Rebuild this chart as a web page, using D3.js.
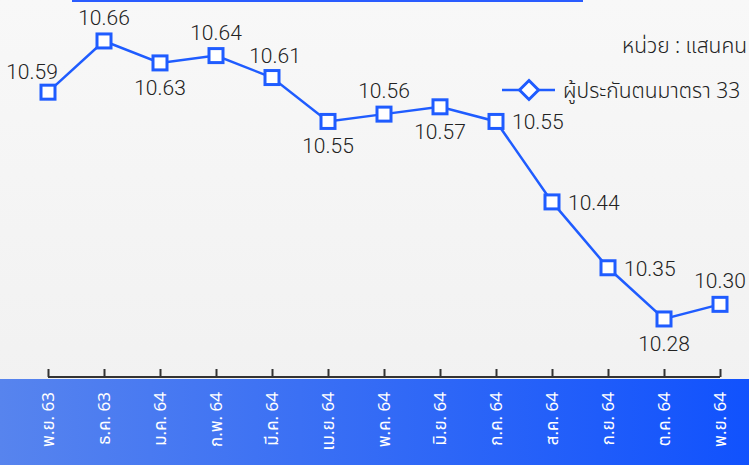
<!DOCTYPE html>
<html>
<head>
<meta charset="utf-8">
<script src="https://cdn.jsdelivr.net/npm/d3@7"></script>
<style>
  html, body { margin: 0; padding: 0; }
  body { width: 749px; height: 465px; overflow: hidden; }
  svg { display: block; font-family: "Noto Sans Thai", "Noto Sans", sans-serif; }
  .num { font-family: Roboto, "Noto Sans", sans-serif; font-weight: 300; }
  .thai { font-weight: 300; }
</style>
</head>
<body>
<svg id="chart" width="749" height="465"></svg>
<script>
const categories = ["พ.ย. 63", "ธ.ค. 63", "ม.ค. 64", "ก.พ. 64", "มี.ค. 64", "เม.ย. 64", "พ.ค. 64", "มิ.ย. 64", "ก.ค. 64", "ส.ค. 64", "ก.ย. 64", "ต.ค. 64", "พ.ย. 64"];
const values = [10.59, 10.66, 10.63, 10.64, 10.61, 10.55, 10.56, 10.57, 10.55, 10.44, 10.35, 10.28, 10.30];
const labelPos = ["left", "top", "bottom", "top", "topright", "bottom", "top", "bottom", "right", "right", "right", "bottom", "top"];
const seriesName = "ผู้ประกันตนมาตรา 33";
const unitText = "หน่วย : แสนคน";
const yDomain = [10.20, 10.70];

const W = 749, H = 465;
const svg = d3.select("#chart");
const defs = svg.append("defs");

const bg = defs.append("linearGradient").attr("id", "bg").attr("x1", 0).attr("y1", 0).attr("x2", 0).attr("y2", 1);
bg.append("stop").attr("offset", "0%").attr("stop-color", "#f8f8f8");
bg.append("stop").attr("offset", "100%").attr("stop-color", "#f0f0f0");
svg.append("rect").attr("width", W).attr("height", H).attr("fill", "url(#bg)");

const band = defs.append("linearGradient").attr("id", "band").attr("x1", 0).attr("y1", 0).attr("x2", 1).attr("y2", 0);
band.append("stop").attr("offset", "0%").attr("stop-color", "#5784ee");
band.append("stop").attr("offset", "100%").attr("stop-color", "#1152fd");
svg.append("rect").attr("x", 0).attr("y", 379).attr("width", W).attr("height", H - 379).attr("fill", "url(#band)");

// top blue rule
svg.append("rect").attr("x", 72).attr("y", 0).attr("width", 511).attr("height", 2).attr("fill", "#2a5cff");

const x = d3.scalePoint().domain(categories).range([48, 720]);
const y = d3.scaleLinear().domain(yDomain).range([377.5, 11.7]);

// x axis
const axis = d3.axisBottom(x).tickSize(-8).tickFormat("");
const gA = svg.append("g").attr("transform", "translate(0,377)").call(axis);
gA.select(".domain").attr("stroke", "#333").attr("stroke-width", 2).attr("d", "M48,0H720");
gA.selectAll(".tick line").attr("stroke", "#333").attr("stroke-width", 2);

// category labels
svg.append("g").selectAll("text").data(categories).join("text")
  .attr("transform", d => `translate(${x(d) + 6},392) rotate(-90)`)
  .attr("text-anchor", "end")
  .attr("fill", "#ffffff")
  .attr("font-size", 17)
  .text(d => d);

const color = "#1f5cff";
const data = categories.map((c, i) => ({ c, v: values[i], p: labelPos[i] }));

svg.append("path").datum(data)
  .attr("fill", "none").attr("stroke", color).attr("stroke-width", 2.5)
  .attr("d", d3.line().x(d => x(d.c)).y(d => y(d.v)));

const ms = 14;
svg.append("g").selectAll("rect").data(data).join("rect")
  .attr("x", d => x(d.c) - ms / 2).attr("y", d => y(d.v) - ms / 2)
  .attr("width", ms).attr("height", ms)
  .attr("fill", "#ffffff").attr("stroke", color).attr("stroke-width", 3);

const off = {
  left: [-16, -13, "middle"],
  top: [0, -16, "middle"],
  bottom: [0, 32, "middle"],
  topright: [3, -15, "middle"],
  right: [16, 8, "start"]
};
svg.append("g").selectAll("text").data(data).join("text")
  .attr("class", "num")
  .attr("x", d => x(d.c) + off[d.p][0])
  .attr("y", d => y(d.v) + off[d.p][1])
  .attr("text-anchor", d => off[d.p][2])
  .attr("font-size", 21)
  .attr("fill", "#222")
  .text(d => d.v.toFixed(2));

// unit
svg.append("text").attr("class", "thai").attr("x", 747).attr("y", 53).attr("text-anchor", "end")
  .attr("font-size", 21).attr("fill", "#222").text(unitText);

// legend
const ly = 90;
svg.append("line").attr("x1", 502).attr("x2", 555).attr("y1", ly).attr("y2", ly)
  .attr("stroke", color).attr("stroke-width", 2.5);
svg.append("path").attr("d", d3.symbol(d3.symbolDiamond2, 230)())
  .attr("transform", `translate(529,${ly})`)
  .attr("fill", "#fff").attr("stroke", color).attr("stroke-width", 3);
svg.append("text").attr("class", "thai").attr("x", 563).attr("y", ly + 8).attr("font-size", 21).attr("fill", "#222").text(seriesName);
</script>
</body>
</html>
